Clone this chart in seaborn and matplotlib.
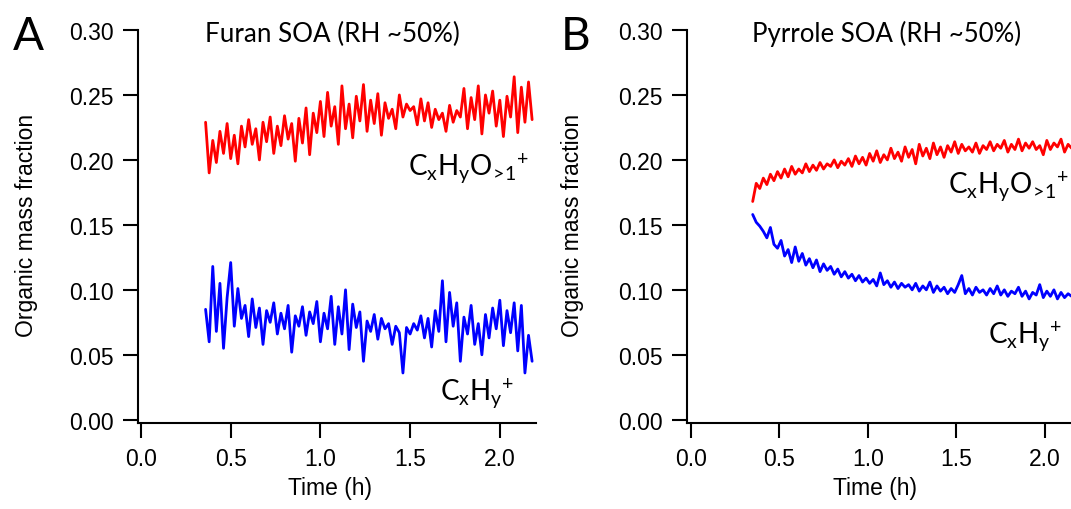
import numpy as np
import pandas as pd
import matplotlib
matplotlib.use("Agg")
import matplotlib.pyplot as plt
import seaborn as sns

# ---- data ----
# sampling (hours): first point and step of each run
furan_t0, furan_dt = 0.36, 0.02
pyrrole_t0, pyrrole_dt = 0.35, 0.02

furan_cxhyo = [0.229, 0.190, 0.215, 0.198, 0.222, 0.205, 0.228, 0.201, 0.219, 0.197,
               0.226, 0.210, 0.231, 0.212, 0.224, 0.200, 0.229, 0.214, 0.233, 0.205,
               0.226, 0.211, 0.234, 0.216, 0.228, 0.199, 0.232, 0.213, 0.240, 0.204,
               0.236, 0.221, 0.245, 0.218, 0.252, 0.226, 0.241, 0.212, 0.257, 0.224,
               0.243, 0.217, 0.249, 0.230, 0.258, 0.222, 0.246, 0.228, 0.251, 0.219,
               0.244, 0.232, 0.239, 0.224, 0.250, 0.233, 0.243, 0.238, 0.241, 0.227,
               0.247, 0.230, 0.244, 0.225, 0.239, 0.231, 0.236, 0.222, 0.242, 0.229,
               0.238, 0.233, 0.255, 0.224, 0.248, 0.231, 0.257, 0.220, 0.250, 0.236,
               0.253, 0.226, 0.246, 0.218, 0.249, 0.233, 0.264, 0.221, 0.256, 0.229,
               0.260, 0.231]
furan_cxhy = [0.085, 0.060, 0.118, 0.068, 0.105, 0.055, 0.094, 0.121, 0.072, 0.101,
              0.078, 0.088, 0.064, 0.093, 0.071, 0.086, 0.058, 0.084, 0.075, 0.090,
              0.066, 0.082, 0.070, 0.088, 0.052, 0.080, 0.072, 0.087, 0.065, 0.083,
              0.074, 0.091, 0.060, 0.082, 0.070, 0.095, 0.058, 0.087, 0.066, 0.100,
              0.054, 0.089, 0.071, 0.083, 0.045, 0.076, 0.068, 0.081, 0.062, 0.078,
              0.070, 0.074, 0.058, 0.072, 0.067, 0.036, 0.071, 0.066, 0.074, 0.069,
              0.080, 0.063, 0.078, 0.056, 0.084, 0.068, 0.107, 0.060, 0.098, 0.072,
              0.090, 0.045, 0.079, 0.066, 0.088, 0.058, 0.074, 0.050, 0.081, 0.063,
              0.086, 0.070, 0.092, 0.057, 0.084, 0.067, 0.090, 0.053, 0.088, 0.036,
              0.065, 0.045]

pyrrole_cxhyo = [0.168, 0.182, 0.178, 0.186, 0.181, 0.189, 0.184, 0.191, 0.186, 0.193,
                 0.187, 0.195, 0.189, 0.193, 0.190, 0.197, 0.191, 0.196, 0.192, 0.198,
                 0.193, 0.197, 0.195, 0.200, 0.194, 0.199, 0.196, 0.201, 0.195, 0.203,
                 0.197, 0.202, 0.196, 0.205, 0.199, 0.207, 0.198, 0.204, 0.200, 0.209,
                 0.201, 0.206, 0.199, 0.210, 0.202, 0.208, 0.197, 0.212, 0.203, 0.209,
                 0.201, 0.213, 0.204, 0.210, 0.202, 0.211, 0.206, 0.214, 0.205, 0.212,
                 0.207, 0.210, 0.206, 0.213, 0.205, 0.211, 0.208, 0.214, 0.207, 0.212,
                 0.209, 0.215, 0.206, 0.212, 0.208, 0.216, 0.207, 0.213, 0.209, 0.214,
                 0.208, 0.211, 0.204, 0.215, 0.208, 0.213, 0.210, 0.216, 0.206, 0.212,
                 0.209, 0.214, 0.210]
pyrrole_cxhy = [0.158, 0.152, 0.149, 0.145, 0.140, 0.148, 0.135, 0.132, 0.138, 0.126,
                0.131, 0.121, 0.133, 0.122, 0.128, 0.119, 0.124, 0.117, 0.123, 0.114,
                0.120, 0.115, 0.118, 0.112, 0.116, 0.110, 0.114, 0.109, 0.112, 0.107,
                0.111, 0.106, 0.109, 0.105, 0.108, 0.103, 0.113, 0.104, 0.107, 0.102,
                0.106, 0.101, 0.105, 0.102, 0.104, 0.100, 0.105, 0.099, 0.103, 0.100,
                0.106, 0.098, 0.103, 0.099, 0.102, 0.097, 0.101, 0.098, 0.104, 0.111,
                0.097, 0.101, 0.096, 0.102, 0.098, 0.100, 0.096, 0.101, 0.097, 0.103,
                0.096, 0.100, 0.095, 0.099, 0.097, 0.102, 0.095, 0.099, 0.093, 0.098,
                0.096, 0.104, 0.094, 0.099, 0.095, 0.100, 0.093, 0.098, 0.094, 0.097,
                0.095, 0.099, 0.096]

yticks = [0.00, 0.05, 0.10, 0.15, 0.20, 0.25, 0.30]
xticks = [0.0, 0.5, 1.0, 1.5, 2.0]

sns.set_style("ticks")
plt.rcParams['font.family'] = ['Liberation Sans', 'DejaVu Sans']
plt.rcParams['text.color'] = 'black'
plt.rcParams['axes.labelcolor'] = 'black'
plt.rcParams['axes.edgecolor'] = 'black'
plt.rcParams['xtick.color'] = 'black'
plt.rcParams['ytick.color'] = 'black'
plt.rcParams['mathtext.fontset'] = 'custom'
plt.rcParams['mathtext.rm'] = 'Lato'
plt.rcParams['mathtext.it'] = 'Lato:italic'

W, H = 1071, 510
fig = plt.figure(figsize=(W / 100, H / 100), dpi=100)

axA = fig.add_axes([138 / W, 86 / H, 397.7 / W, 393 / H])
axB = fig.add_axes([687.3 / W, 86 / H, 393.2 / W, 393 / H])


def make_df(t0, dt, vals):
    return pd.DataFrame({'t': t0 + dt * np.arange(len(vals)), 'v': vals})


sns.lineplot(data=make_df(furan_t0, furan_dt, furan_cxhyo), x='t', y='v',
             ax=axA, color='#ff0000', lw=2.0, estimator=None, sort=False)
sns.lineplot(data=make_df(furan_t0, furan_dt, furan_cxhy), x='t', y='v',
             ax=axA, color='#0000ff', lw=2.0, estimator=None, sort=False)
sns.lineplot(data=make_df(pyrrole_t0, pyrrole_dt, pyrrole_cxhyo), x='t', y='v',
             ax=axB, color='#ff0000', lw=2.0, estimator=None, sort=False)
sns.lineplot(data=make_df(pyrrole_t0, pyrrole_dt, pyrrole_cxhy), x='t', y='v',
             ax=axB, color='#0000ff', lw=2.0, estimator=None, sort=False)

for ax, x0 in [(axA, -0.0167), (axB, -0.019)]:
    ax.set_xlim(x0, 2.2)
    ax.set_ylim(-0.0025, 0.30)
    ax.set_xticks(xticks)
    ax.set_yticks(yticks)
    ax.set_xticklabels(['%.1f' % v for v in xticks])
    ax.set_yticklabels(['%.2f' % v for v in yticks])
    ax.set_xlabel('')
    ax.set_ylabel('')
    for s in ['top', 'right']:
        ax.spines[s].set_visible(False)
    for s in ['left', 'bottom']:
        ax.spines[s].set_linewidth(1.5)
    ax.tick_params(direction='out', length=11, width=1.5, labelsize=16.5,
                   pad=6.5, colors='black')

def fx(px):
    return px / W


def fy(py):
    return 1 - py / H


big = dict(family=['Lato', 'DejaVu Sans'], color='black')

# panel letters and titles
fig.text(fx(13), fy(50), 'A', fontsize=33, va='baseline', ha='left', **big)
fig.text(fx(561), fy(50), 'B', fontsize=33, va='baseline', ha='left', **big)
fig.text(fx(205), fy(42), 'Furan SOA (RH ~50%)', fontsize=18.7, va='baseline', ha='left', **big)
fig.text(fx(752), fy(42), 'Pyrrole SOA (RH ~50%)', fontsize=18.5, va='baseline', ha='left', **big)

# species labels
lab_o = r'$\mathrm{C_{x}H_{y}O_{\!>\!1}{}^{+}}$'
lab_h = r'$\mathrm{C_{x}H_{y}{}^{+}}$'
fig.text(fx(408), fy(175), lab_o, fontsize=20, va='baseline', ha='left')
fig.text(fx(440), fy(400), lab_h, fontsize=20, va='baseline', ha='left')
fig.text(fx(948), fy(193), lab_o, fontsize=20, va='baseline', ha='left')
fig.text(fx(988), fy(343), lab_h, fontsize=20, va='baseline', ha='left')

# axis titles
fig.text(fx(27), fy(225), 'Organic mass fraction', fontsize=16.5, rotation=90,
         ha='center', va='center')
fig.text(fx(573), fy(225), 'Organic mass fraction', fontsize=16.5, rotation=90,
         ha='center', va='center')
fig.text(fx(330), fy(489), 'Time (h)', fontsize=16.5, ha='center', va='center')
fig.text(fx(875), fy(489), 'Time (h)', fontsize=16.5, ha='center', va='center')

fig.savefig('out.png', dpi=100)
